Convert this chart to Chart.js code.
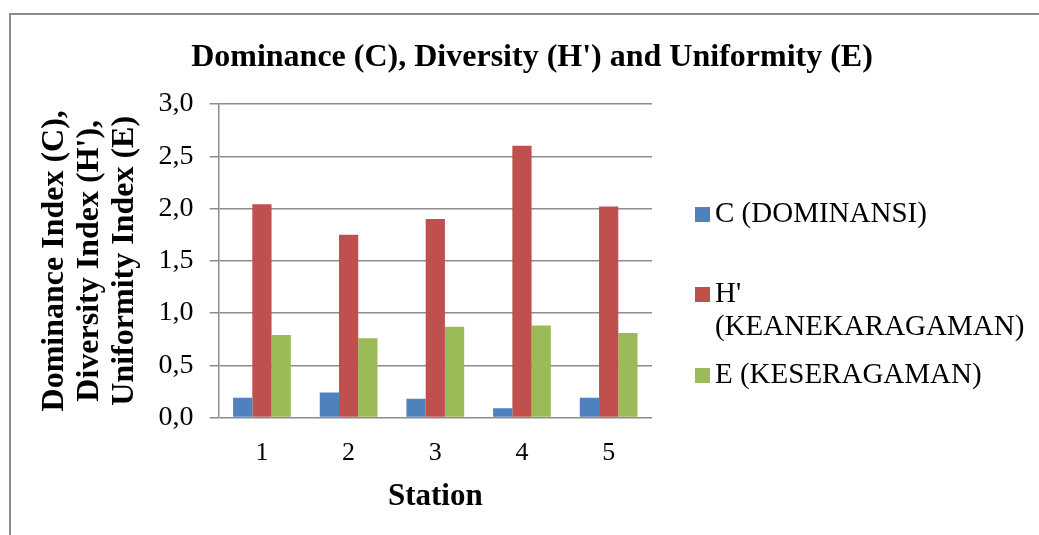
<!DOCTYPE html>
<html>
<head>
<meta charset="utf-8">
<script src="https://cdn.jsdelivr.net/npm/chart.js@4"></script>
<style>
    body { margin: 0; background: #fff; overflow: hidden; }
    #wrap { position: relative; width: 1039px; height: 535px; }
    #frame { position: absolute; left: 9px; top: 13px; width: 1100px; height: 600px; border: 2px solid #8c8c8c; }
    canvas { position: absolute; left: 0; top: 0; }
    #title { position: absolute; left: 0; width: 1064px; top: 36px; text-align: center;
             font-family: "Liberation Serif", serif; font-weight: bold; font-size: 32px; line-height: 38px; color: #000; }
    .leg { position: absolute; font-family: "Liberation Serif", serif; font-size: 29px; line-height: 33px; color: #000; }
    .leg span { display: inline-block; width: 15px; height: 15px; margin-right: 5px; }
</style>
</head>
<body>
<div id="wrap">
    <div id="frame"></div>
    <canvas id="chart" width="1039" height="535"></canvas>
    <div id="title">Dominance (C), Diversity (H') and Uniformity (E)</div>
    <div id="legend"></div>
</div>
<script>
// values
const stations = ['1', '2', '3', '4', '5'];
const dominance = [0.19, 0.24, 0.18, 0.09, 0.19];
const diversity = [2.04, 1.75, 1.90, 2.60, 2.02];
const uniformity = [0.79, 0.76, 0.87, 0.88, 0.81];
const seriesNames = ['C (DOMINANSI)', "H' (KEANEKARAGAMAN)", 'E (KESERAGAMAN)'];
const seriesColors = ['#4f81bd', '#c0504d', '#9bbb59'];

const serif = '"Liberation Serif", "Times New Roman", serif';
const gridGray = '#8c8c8c';

const datasets = [dominance, diversity, uniformity].map((values, i) => ({
    label: seriesNames[i],
    data: values,
    backgroundColor: seriesColors[i],
    categoryPercentage: 0.666,
    barPercentage: 1.0
}));

new Chart(document.getElementById('chart'), {
    type: 'bar',
    data: { labels: stations, datasets: datasets },
    options: {
        responsive: false,
        animation: false,
        layout: { padding: { left: 37, right: 387, top: 104, bottom: 19 } },
        plugins: {
            legend: { display: false },
            tooltip: { enabled: false },
            title: { display: false }
        },
        scales: {
            x: {
                grid: { display: false },
                border: { display: false },
                ticks: { color: '#000', font: { family: serif, size: 26 }, padding: 12 },
                title: {
                    display: true,
                    text: 'Station',
                    color: '#000',
                    font: { family: serif, size: 31, weight: 'bold' },
                    padding: { top: -2, bottom: 0 }
                }
            },
            y: {
                min: 0,
                max: 3,
                ticks: {
                    stepSize: 0.5,
                    color: '#000',
                    font: { family: serif, size: 28 },
                    padding: 16,
                    callback: v => v.toFixed(1).replace('.', ',')
                },
                grid: { color: gridGray, lineWidth: 1.5, tickLength: 9 },
                border: { display: true, color: gridGray, width: 1.5 },
                title: {
                    display: true,
                    text: ['Dominance Index (C),', "Diversity Index (H'),", 'Uniformity Index (E)'],
                    color: '#000',
                    font: { family: serif, size: 32, weight: 'bold', lineHeight: 1.1 },
                    padding: { top: 0, bottom: 0 }
                }
            }
        }
    }
});

// legend laid out as in the reference (wrapped second entry)
const legend = document.getElementById('legend');
const legendSpots = [
    { top: 196, lines: ['C (DOMINANSI)'] },
    { top: 276, lines: ["H'", '(KEANEKARAGAMAN)'] },
    { top: 357, lines: ['E (KESERAGAMAN)'] }
];
legendSpots.forEach((spot, i) => {
    const item = document.createElement('div');
    item.className = 'leg';
    item.style.left = '695px';
    item.style.top = spot.top + 'px';
    item.innerHTML = spot.lines.map((line, j) =>
        `<span style="background:${seriesColors[i]};${j ? 'visibility:hidden' : ''}"></span>${line}`
    ).join('<br>');
    legend.appendChild(item);
});
</script>
</body>
</html>
